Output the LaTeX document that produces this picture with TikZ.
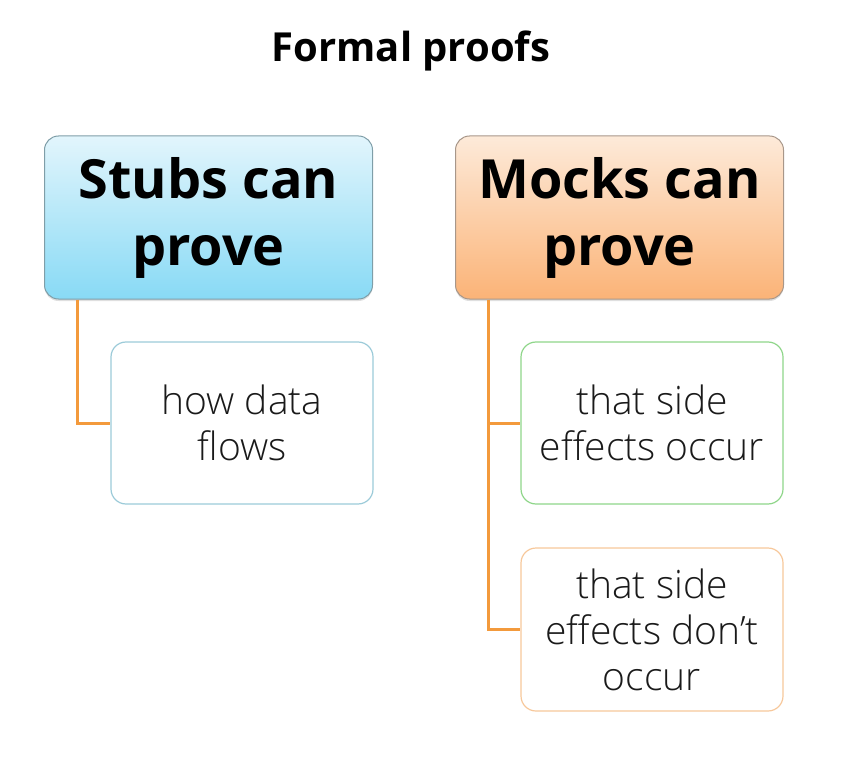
\documentclass[tikz,border=0pt]{standalone}
\usepackage{fontspec}
\setmainfont{Open Sans}
\newfontfamily\lightfont{Open Sans Light}
\usetikzlibrary{calc,shadows}
\definecolor{stubtop}{HTML}{E2F5FC}
\definecolor{stubbot}{HTML}{88DAF5}
\definecolor{stubline}{HTML}{7F9EA8}
\definecolor{mocktop}{HTML}{FDEAD9}
\definecolor{mockbot}{HTML}{FBB377}
\definecolor{mockline}{HTML}{A8978A}
\definecolor{conn}{HTML}{F39A3C}
\definecolor{blueline}{HTML}{9CCBD9}
\definecolor{greenline}{HTML}{8FD68A}
\definecolor{orangeline}{HTML}{F7C89B}
\definecolor{txt}{HTML}{1A1A1A}
\tikzset{
  headbox/.style={rounded corners=14pt, minimum width=328pt, minimum height=163pt,
    align=center, inner sep=0pt, line width=1pt, text=black,
    font=\bfseries\fontsize{54}{67}\selectfont,
    drop shadow={opacity=0.25, shadow xshift=0pt, shadow yshift=-2pt}},
  childbox/.style={rounded corners=15pt, minimum width=262pt, minimum height=162pt,
    align=center, inner sep=0pt, line width=1.2pt, fill=white, text=txt,
    font=\lightfont\fontsize{39}{46}\selectfont},
  link/.style={draw=conn, line width=3pt}
}
\begin{document}
\begin{tikzpicture}[x=1pt,y=-1pt]
\useasboundingbox (0,0) rectangle (843,759);
\node[font=\bfseries\fontsize{40}{46}\selectfont] (title) at (411,51) {Formal proofs};
\node[headbox, draw=stubline, top color=stubtop, bottom color=stubbot] (stubs) at (208.5,217.5) {Stubs can\\prove};
\node[headbox, draw=mockline, top color=mocktop, bottom color=mockbot] (mocks) at (619.5,217.5) {Mocks can\\prove};
\node[childbox, draw=blueline] (flows) at (242,423) {how data\\flows};
\node[childbox, draw=greenline] (occur) at (652,423) {that side\\effects occur};
\node[childbox, draw=orangeline, minimum height=163pt] (dont) at (652,629.5) {that side\\effects don’t\\occur};
\draw[link] ($(stubs.south west)+(33,0)$) |- (flows.west);
\draw[link] ($(mocks.south west)+(33,0)$) |- (occur.west);
\draw[link] ($(mocks.south west)+(33,0)$) |- (dont.west);
\end{tikzpicture}
\end{document}
